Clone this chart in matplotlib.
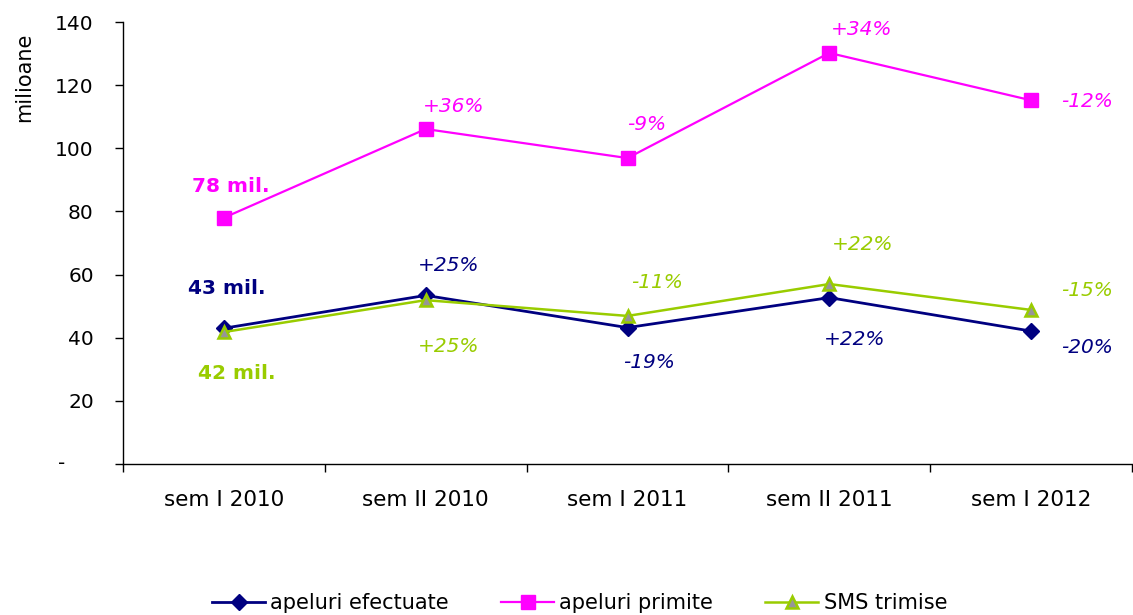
import matplotlib
matplotlib.use("Agg")
import matplotlib.pyplot as plt

categories = ["sem I 2010", "sem II 2010", "sem I 2011", "sem II 2011", "sem I 2012"]
apeluri_efectuate = [43.0, 53.4, 43.2, 52.7, 42.1]
apeluri_primite = [78.0, 106.1, 96.9, 130.2, 115.2]
sms_trimise = [41.8, 51.9, 46.9, 57.0, 48.8]

labels_efectuate = ["43 mil.", "+25%", "-19%", "+22%", "-20%"]
labels_primite = ["78 mil.", "+36%", "-9%", "+34%", "-12%"]
labels_sms = ["42 mil.", "+25%", "-11%", "+22%", "-15%"]

yticks = [0, 20, 40, 60, 80, 100, 120, 140]
ytick_labels = ["", "20", "40", "60", "80", "100", "120", "140"]

NAVY = "#000080"
MAGENTA = "#FF00FF"
GREEN = "#99CC00"
GRAY = "#969696"

W, H = 1133, 615
fig = plt.figure(figsize=(W / 100, H / 100), dpi=100)
ax = fig.add_axes([123 / W, 1 - 464 / H, (1132 - 123) / W, (464 - 22) / H])

x = list(range(len(categories)))
l1, = ax.plot(x, apeluri_efectuate, color=NAVY, lw=2.0, marker="D", ms=8.5,
              mfc=NAVY, mec=NAVY, label="apeluri efectuate", zorder=3)
l2, = ax.plot(x, apeluri_primite, color=MAGENTA, lw=1.6, marker="s", ms=9.5,
              mfc=MAGENTA, mec=MAGENTA, label="apeluri primite", zorder=3)
l3, = ax.plot(x, sms_trimise, color=GREEN, lw=1.8, marker="^", ms=8.5,
              mfc=GRAY, mec=GREEN, mew=1.8, label="SMS trimise", zorder=3)

off_primite = [(7, 31), (28, 23), (19, 34), (32, 23), (56, -1)]
off_efectuate = [(3, 40), (23, 30), (22, -35), (25, -42), (56, -16)]
off_sms = [(13, -41), (23, -46), (30, 33), (33, 40), (56, 19)]

def annotate(vals, labels, offs, color):
    for i, (v, t, o) in enumerate(zip(vals, labels, offs)):
        bold = i == 0
        ax.annotate(t, (x[i], v), xytext=o, textcoords="offset pixels",
                    ha="center", va="center", color=color,
                    fontsize=14.5,
                    fontweight="bold" if bold else "normal",
                    fontstyle="normal" if bold else "italic",
                    annotation_clip=False)

annotate(apeluri_primite, labels_primite, off_primite, MAGENTA)
annotate(apeluri_efectuate, labels_efectuate, off_efectuate, NAVY)
annotate(sms_trimise, labels_sms, off_sms, GREEN)

ax.set_xlim(-0.5, len(categories) - 0.5)
ax.set_ylim(0, 140)
ax.set_yticks(yticks)
ax.set_yticklabels(ytick_labels)
ax.text(-0.061, 0, "-", transform=ax.get_yaxis_transform(), ha="center",
        va="center", fontsize=14.5)

ax.set_xticks([i - 0.5 for i in range(len(categories) + 1)])
ax.set_xticklabels([])
ax.set_xticks(x, minor=True)
ax.set_xticklabels(categories, minor=True)
ax.tick_params(axis="x", which="major", direction="out", length=6, width=1)
ax.tick_params(axis="x", which="minor", length=0, pad=19, labelsize=15.5)
ax.tick_params(axis="y", direction="out", length=6, width=1, pad=15, labelsize=14.5)

for s in ["top", "right"]:
    ax.spines[s].set_visible(False)
for s in ["left", "bottom"]:
    ax.spines[s].set_linewidth(1)
    ax.spines[s].set_color("black")

fig.text(24 / W, 1 - 77 / H, "milioane", rotation=90, ha="center", va="center",
         fontsize=15)

fig.legend(handles=[l1, l2, l3], loc="center left",
           bbox_to_anchor=(212 / W, 1 - 603 / H), ncol=3, frameon=False,
           fontsize=15, handlelength=2.55, handletextpad=0.25,
           columnspacing=2.5, borderpad=0, borderaxespad=0)

fig.savefig("out.png", dpi=100)
